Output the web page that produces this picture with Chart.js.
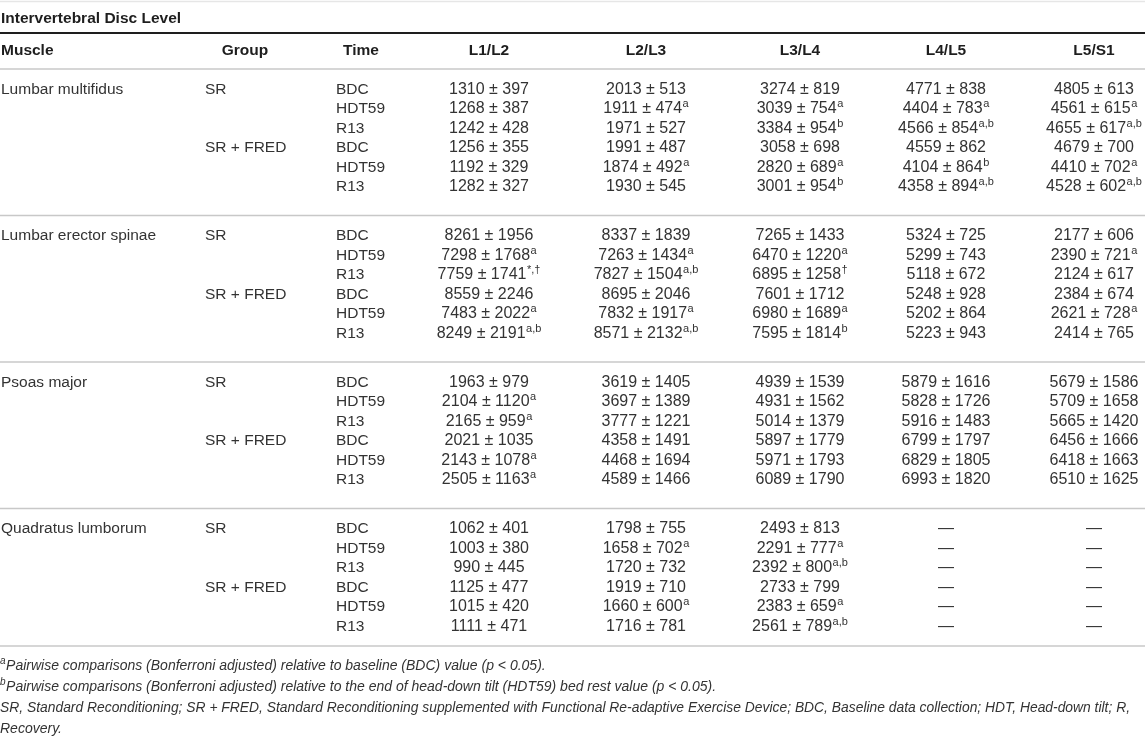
<!DOCTYPE html>
<html>
<head>
<meta charset="utf-8">
<script src="https://cdn.jsdelivr.net/npm/chart.js@4.4.1/dist/chart.umd.min.js"></script>
<style>
html,body{margin:0;padding:0;background:#fff;}
#wrap{width:1145px;height:740px;position:relative;}
</style>
</head>
<body>
<div id="wrap"><canvas id="c"></canvas></div>
<script>
// ---------- DATA ----------
const levels = ['L1/L2', 'L2/L3', 'L3/L4', 'L4/L5', 'L5/S1'];
const muscles = ['Lumbar multifidus', 'Lumbar erector spinae', 'Psoas major', 'Quadratus lumborum'];
const groups = ['SR', 'SR + FRED'];
const times = ['BDC', 'HDT59', 'R13'];
const tableTitle = 'Intervertebral Disc Level';
const headMuscle = 'Muscle', headGroup = 'Group', headTime = 'Time';

// rows: SR BDC, SR HDT59, SR R13, SR+FRED BDC, SR+FRED HDT59, SR+FRED R13 ; columns: levels
const multifidusMean = [
  [1310, 2013, 3274, 4771, 4805],
  [1268, 1911, 3039, 4404, 4561],
  [1242, 1971, 3384, 4566, 4655],
  [1256, 1991, 3058, 4559, 4679],
  [1192, 1874, 2820, 4104, 4410],
  [1282, 1930, 3001, 4358, 4528]];
const multifidusSD = [
  [397, 513, 819, 838, 613],
  [387, 474, 754, 783, 615],
  [428, 527, 954, 854, 617],
  [355, 487, 698, 862, 700],
  [329, 492, 689, 864, 702],
  [327, 545, 954, 894, 602]];
const multifidusSig = [
  ['', '', '', '', ''],
  ['', 'a', 'a', 'a', 'a'],
  ['', '', 'b', 'a,b', 'a,b'],
  ['', '', '', '', ''],
  ['', 'a', 'a', 'b', 'a'],
  ['', '', 'b', 'a,b', 'a,b']];

const erectorMean = [
  [8261, 8337, 7265, 5324, 2177],
  [7298, 7263, 6470, 5299, 2390],
  [7759, 7827, 6895, 5118, 2124],
  [8559, 8695, 7601, 5248, 2384],
  [7483, 7832, 6980, 5202, 2621],
  [8249, 8571, 7595, 5223, 2414]];
const erectorSD = [
  [1956, 1839, 1433, 725, 606],
  [1768, 1434, 1220, 743, 721],
  [1741, 1504, 1258, 672, 617],
  [2246, 2046, 1712, 928, 674],
  [2022, 1917, 1689, 864, 728],
  [2191, 2132, 1814, 943, 765]];
const erectorSig = [
  ['', '', '', '', ''],
  ['a', 'a', 'a', '', 'a'],
  ['*,†', 'a,b', '†', '', ''],
  ['', '', '', '', ''],
  ['a', 'a', 'a', '', 'a'],
  ['a,b', 'a,b', 'b', '', '']];

const psoasMean = [
  [1963, 3619, 4939, 5879, 5679],
  [2104, 3697, 4931, 5828, 5709],
  [2165, 3777, 5014, 5916, 5665],
  [2021, 4358, 5897, 6799, 6456],
  [2143, 4468, 5971, 6829, 6418],
  [2505, 4589, 6089, 6993, 6510]];
const psoasSD = [
  [979, 1405, 1539, 1616, 1586],
  [1120, 1389, 1562, 1726, 1658],
  [959, 1221, 1379, 1483, 1420],
  [1035, 1491, 1779, 1797, 1666],
  [1078, 1694, 1793, 1805, 1663],
  [1163, 1466, 1790, 1820, 1625]];
const psoasSig = [
  ['', '', '', '', ''],
  ['a', '', '', '', ''],
  ['a', '', '', '', ''],
  ['', '', '', '', ''],
  ['a', '', '', '', ''],
  ['a', '', '', '', '']];

const quadratusMean = [
  [1062, 1798, 2493, null, null],
  [1003, 1658, 2291, null, null],
  [990, 1720, 2392, null, null],
  [1125, 1919, 2733, null, null],
  [1015, 1660, 2383, null, null],
  [1111, 1716, 2561, null, null]];
const quadratusSD = [
  [401, 755, 813, null, null],
  [380, 702, 777, null, null],
  [445, 732, 800, null, null],
  [477, 710, 799, null, null],
  [420, 600, 659, null, null],
  [471, 781, 789, null, null]];
const quadratusSig = [
  ['', '', '', '', ''],
  ['', 'a', 'a', '', ''],
  ['', '', 'a,b', '', ''],
  ['', '', '', '', ''],
  ['', 'a', 'a', '', ''],
  ['', '', 'a,b', '', '']];

const footSup = ['a', 'b', '', ''];
const footText = [
  'Pairwise comparisons (Bonferroni adjusted) relative to baseline (BDC) value (p < 0.05).',
  'Pairwise comparisons (Bonferroni adjusted) relative to the end of head-down tilt (HDT59) bed rest value (p < 0.05).',
  'SR, Standard Reconditioning; SR + FRED, Standard Reconditioning supplemented with Functional Re-adaptive Exercise Device; BDC, Baseline data collection; HDT, Head-down tilt; R,',
  'Recovery.'];

// ---------- LAYOUT / STYLE ----------
const W = 1145, H = 740;
const L = {
  muscleX: 1, groupX: 205, groupHeadX: 245, timeX: 336, timeHeadX: 361,
  levelX: [489, 646, 800, 946, 1094],
  topRuleY: 1.5, titleY: 19, titleRuleY: 33, headY: 51, headRuleY: 69,
  firstRowY: 89.5, rowStep: 19.5, groupStep: 146.5, sepOffset: 20.5,
  bottomRuleY: 646, footY: 666, footStep: 21,
  footMaxW: [1140, 1140, 1130, 1140]
};
const FONT = '"Liberation Sans", Arial, Helvetica, sans-serif';
const TXT = '#333333';
const BODY = 16, LABEL = 15.5, HEAD = 15.5, FOOT = 14;

const meanSets = [multifidusMean, erectorMean, psoasMean, quadratusMean];
const sdSets = [multifidusSD, erectorSD, psoasSD, quadratusSD];
const sigSets = [multifidusSig, erectorSig, psoasSig, quadratusSig];

const rowY = (m, r) => L.firstRowY + m * L.groupStep + r * L.rowStep;

// one scatter dataset per disc level; each point is one table cell
const datasets = levels.map((lv, j) => {
  const data = [];
  muscles.forEach((mu, m) => {
    for (let r = 0; r < 6; r++) data.push({x: L.levelX[j], y: rowY(m, r), m, r, j});
  });
  return {label: lv, data, pointRadius: 0, pointHoverRadius: 0, showLine: false};
});

function drawSupText(ctx, x, y, main, sup, size) {
  ctx.font = size + 'px ' + FONT;
  const wm = ctx.measureText(main).width;
  ctx.font = Math.round(size * 0.66) + 'px ' + FONT;
  const ws = sup ? ctx.measureText(sup).width + 0.5 : 0;
  const x0 = x - (wm + ws) / 2;
  ctx.textAlign = 'left';
  ctx.textBaseline = 'middle';
  ctx.font = size + 'px ' + FONT;
  ctx.fillText(main, x0, y);
  if (sup) {
    ctx.font = Math.round(size * 0.66) + 'px ' + FONT;
    ctx.fillText(sup, x0 + wm + 0.5, y - 5);
  }
}

const tablePlugin = {
  id: 'tablePlugin',
  afterDatasetsDraw(chart) {
    const ctx = chart.ctx, xs = chart.scales.x, ys = chart.scales.y;
    const X = v => xs.getPixelForValue(v), Y = v => ys.getPixelForValue(v);
    ctx.save();
    const rule = (y, color, w) => {
      ctx.beginPath(); ctx.strokeStyle = color; ctx.lineWidth = w;
      ctx.moveTo(X(0), Y(y)); ctx.lineTo(X(W), Y(y)); ctx.stroke();
    };
    rule(L.topRuleY, '#e6e6e6', 1.5);
    rule(L.titleRuleY, '#1e1e1e', 2);
    rule(L.headRuleY, '#c8c8c8', 1.6);
    for (let m = 1; m < muscles.length; m++) rule(rowY(m, 0) - L.sepOffset, '#c8c8c8', 1.6);
    rule(L.bottomRuleY, '#c8c8c8', 1.6);

    ctx.fillStyle = '#1e1e1e';
    ctx.textBaseline = 'middle';
    ctx.font = 'bold ' + HEAD + 'px ' + FONT;
    ctx.textAlign = 'left';
    ctx.fillText(tableTitle, X(L.muscleX), Y(L.titleY));
    ctx.fillText(headMuscle, X(L.muscleX), Y(L.headY));
    ctx.textAlign = 'center';
    ctx.fillText(headGroup, X(L.groupHeadX), Y(L.headY));
    ctx.fillText(headTime, X(L.timeHeadX), Y(L.headY));
    levels.forEach((lv, j) => ctx.fillText(lv, X(L.levelX[j]), Y(L.headY)));

    ctx.fillStyle = TXT;
    ctx.font = LABEL + 'px ' + FONT;
    ctx.textAlign = 'left';
    muscles.forEach((mu, m) => {
      ctx.fillText(mu, X(L.muscleX), Y(rowY(m, 0)));
      groups.forEach((g, gi) => ctx.fillText(g, X(L.groupX), Y(rowY(m, gi * 3))));
      for (let r = 0; r < 6; r++) ctx.fillText(times[r % 3], X(L.timeX), Y(rowY(m, r)));
    });

    chart.data.datasets.forEach((ds, j) => {
      const meta = chart.getDatasetMeta(j);
      meta.data.forEach((pt, i) => {
        const d = ds.data[i];
        const mean = meanSets[d.m][d.r][d.j], sd = sdSets[d.m][d.r][d.j], sig = sigSets[d.m][d.r][d.j];
        const main = mean == null ? '—' : mean + ' ± ' + sd;
        ctx.fillStyle = TXT;
        drawSupText(ctx, pt.x, pt.y, main, sig, BODY);
      });
    });

    footText.forEach((t, k) => {
      const y = Y(L.footY + k * L.footStep);
      let x = X(0);
      ctx.fillStyle = TXT;
      ctx.textAlign = 'left';
      ctx.textBaseline = 'middle';
      if (footSup[k]) {
        ctx.font = 'italic 10px ' + FONT;
        ctx.fillText(footSup[k], x, y - 5);
        x += ctx.measureText(footSup[k]).width + 0.5;
      }
      ctx.font = 'italic ' + FOOT + 'px ' + FONT;
      ctx.fillText(t, x, y, L.footMaxW[k] - x);
    });
    ctx.restore();
  }
};

new Chart(document.getElementById('c'), {
  type: 'scatter',
  data: {datasets},
  options: {
    responsive: true, maintainAspectRatio: false, animation: false, events: [],
    layout: {padding: 0},
    plugins: {legend: {display: false}, tooltip: {enabled: false}},
    scales: {
      x: {type: 'linear', min: 0, max: W, display: false},
      y: {type: 'linear', min: 0, max: H, reverse: true, display: false}
    }
  },
  plugins: [tablePlugin]
});
</script>
</body>
</html>
